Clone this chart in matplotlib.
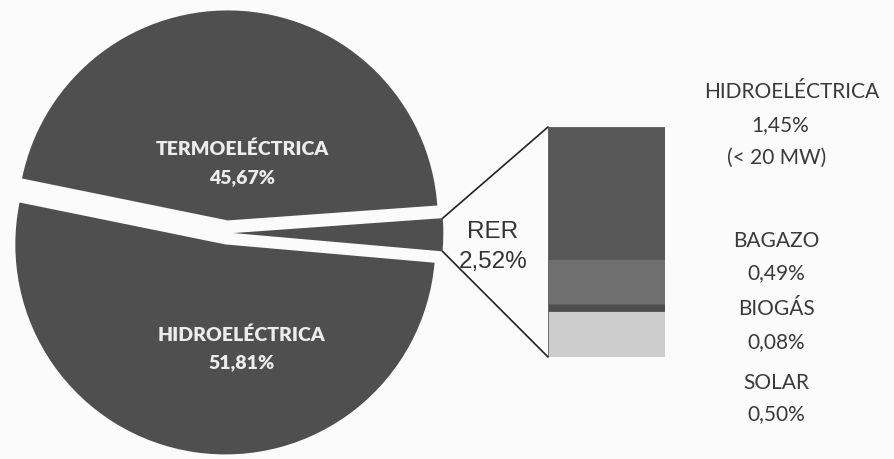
import math
import matplotlib.pyplot as plt
from matplotlib.patches import ConnectionPatch

# main pie: RER, termo, hidro (percent of total generation)
pie_labels = ["RER", "TERMOELÉCTRICA", "HIDROELÉCTRICA"]
pie_values = [2.52, 45.67, 51.81]

# breakdown of RER, from bottom of the bar to top
rer_labels = ["SOLAR", "BIOGÁS", "BAGAZO", "HIDROELÉCTRICA"]
rer_values = [0.50, 0.08, 0.49, 1.45]
rer_colors = ["#cdcdcd", "#4e4e4e", "#6f6f6f", "#575757"]


def pct(v):
    return f"{v:.2f}".replace(".", ",") + "%"


W, H = 894, 459
fig = plt.figure(figsize=(W / 100, H / 100), dpi=100)
fig.patch.set_facecolor("#fbfbfb")

# pie axes, laid out in pixels
cx, cy, R = 227, 233, 210
ax_pie = fig.add_axes([0, 0, 460 / W, 1])
wedges, _ = ax_pie.pie(
    pie_values,
    startangle=-5,
    explode=[0.03, 0.06, 0.055],
    colors=["#4f4f4f"] * 3,
    wedgeprops=dict(edgecolor="none"),
)
ax_pie.set_xlim(-cx / R, (460 - cx) / R)
ax_pie.set_ylim(-(H - cy) / R, cy / R)
ax_pie.set_aspect("auto")
ax_pie.axis("off")

pie_font = dict(family=["Lato", "DejaVu Sans"], fontsize=14, fontweight="heavy",
                color="#ececec", ha="center", va="baseline")
for name, v, y1, y2 in [(pie_labels[1], pie_values[1], 155, 183),
                        (pie_labels[2], pie_values[2], 341, 368)]:
    fig.text(242 / W, 1 - y1 / H, name, **pie_font)
    fig.text(242 / W, 1 - y2 / H, pct(v), **pie_font)

# RER label between pie and bar
rer_font = dict(family=["Liberation Sans", "DejaVu Sans"], fontsize=17.5,
                color="#333333", ha="center", va="baseline")
fig.text(493 / W, 1 - 238 / H, pie_labels[0], **rer_font)
fig.text(493 / W, 1 - 268 / H, pct(pie_values[0]), **rer_font)

# stacked bar of RER sources
ax_bar = fig.add_axes([548 / W, 1 - 357 / H, 117 / W, 230 / H])
bottom = 0
for v, c in zip(rer_values, rer_colors):
    ax_bar.bar(0, v, bottom=bottom, width=1, color=c, edgecolor="#5a5a5a", linewidth=0.6)
    bottom += v
ax_bar.set_xlim(-0.5, 0.5)
ax_bar.set_ylim(0, sum(rer_values))
ax_bar.axis("off")

# connecting lines from RER wedge to the bar
w = wedges[0]
for theta, ybar in [(w.theta2, sum(rer_values)), (w.theta1, 0)]:
    x = w.center[0] + w.r * math.cos(math.radians(theta))
    y = w.center[1] + w.r * math.sin(math.radians(theta))
    con = ConnectionPatch(xyA=(-0.5, ybar), coordsA=ax_bar.transData,
                          xyB=(x, y), coordsB=ax_pie.transData,
                          color="#222222", linewidth=1.2)
    fig.add_artist(con)

# labels right of the bar
txt_font = dict(family=["Lato", "DejaVu Sans"], fontsize=15,
                color="#3a3a3a", ha="center", va="baseline")
right_lines = [
    ([rer_labels[3], pct(rer_values[3]), "(< 20 MW)"], [98, 131, 164], [792, 780, 777]),
    ([rer_labels[2], pct(rer_values[2])], [247, 279], [776, 776]),
    ([rer_labels[1], pct(rer_values[1])], [315, 348], [776, 776]),
    ([rer_labels[0], pct(rer_values[0])], [389, 420], [776, 776]),
]
for lines, ys, xs in right_lines:
    for s, y, x in zip(lines, ys, xs):
        fig.text(x / W, 1 - y / H, s, **txt_font)

fig.savefig("out.png", dpi=100, facecolor=fig.get_facecolor())
